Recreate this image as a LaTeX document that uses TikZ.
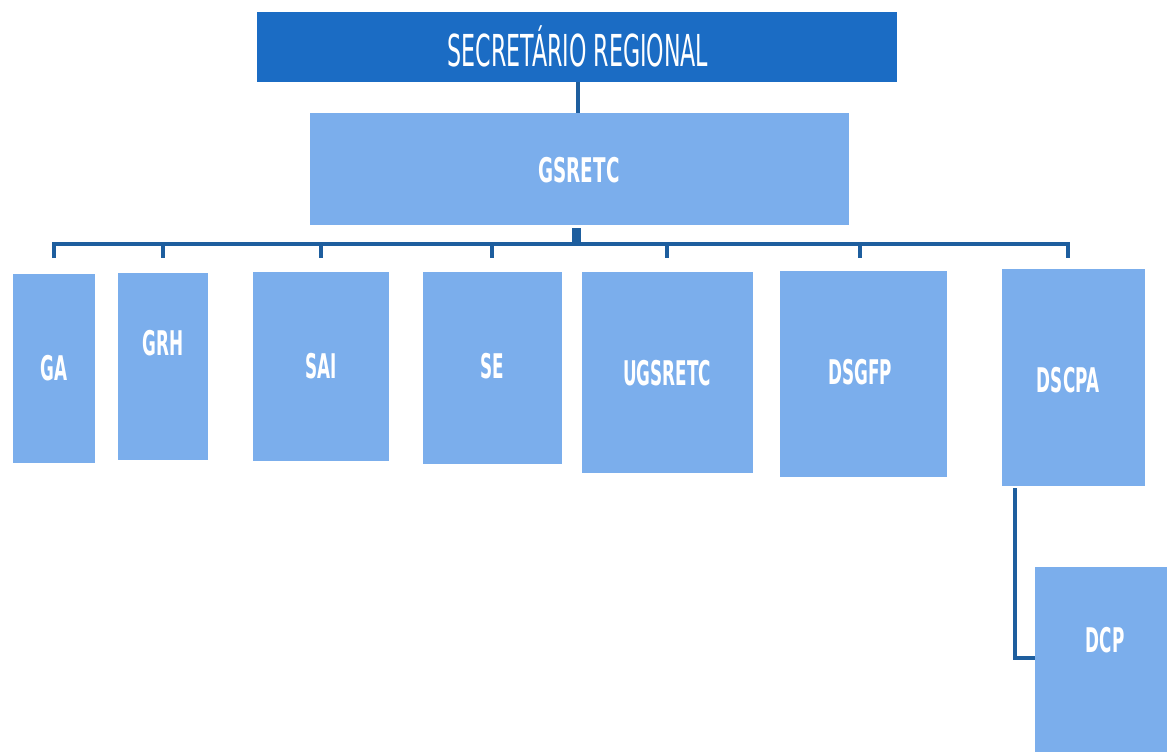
\documentclass[tikz,border=0pt]{standalone}
\usepackage{fontspec}
\usepackage{graphicx}
\newfontfamily\condfont{DejaVu Sans Condensed}
\definecolor{darkbox}{HTML}{1B6CC4}
\definecolor{lightbox}{HTML}{7BAEEC}
\definecolor{lineblue}{HTML}{1E5E9E}
\newcommand{\lbl}[1]{\scalebox{0.55}[1]{\condfont\bfseries\fontsize{34}{36}\selectfont #1}}
\tikzset{
  conn/.style={draw=lineblue, line width=3.2pt},
  lab/.style={text=white, inner sep=0pt}
}
\begin{document}
\begin{tikzpicture}[x=1pt,y=-1pt]
\useasboundingbox (0,0) rectangle (1167,752);
\fill[white] (0,0) rectangle (1167,752);
% top boxes
\fill[darkbox] (257,12) rectangle (897,82);
\node[lab] (sr) at (578,46) {\scalebox{0.56}[1]{\condfont\fontsize{44}{46}\selectfont SECRETÁRIO REGIONAL}};
\fill[lightbox] (310,113) rectangle (849,225);
\node[lab] (gs) at (579,170) {\scalebox{0.6}[1]{\condfont\bfseries\fontsize{34}{36}\selectfont GSRETC}};
\coordinate (srb) at (578,82);
\coordinate (gst) at (578,113);
\draw[conn] (srb) -- (gst);
% bus
\coordinate (busL) at (54,244);
\coordinate (busR) at (1068,244);
\fill[lineblue] (572,228) rectangle (581,245);
\draw[conn] (54,258) |- (1068,244) -- (1068,258);
% children
\fill[lightbox] (13,274) rectangle (95,463);
\fill[lightbox] (118,273) rectangle (208,460);
\fill[lightbox] (253,272) rectangle (389,461);
\fill[lightbox] (423,272) rectangle (562,464);
\fill[lightbox] (582,272) rectangle (753,473);
\fill[lightbox] (780,271) rectangle (947,477);
\fill[lightbox] (1002,269) rectangle (1145,486);
\fill[lightbox] (1035,567) rectangle (1170,755);
\foreach \x in {163,321,492,667,860}{\draw[conn] (\x,244) -- (\x,258);}
\node[lab] (ga) at (54,368) {\lbl{GA}};
\node[lab] (grh) at (163,343) {\lbl{GRH}};
\node[lab] (sai) at (321,366) {\lbl{SAI}};
\node[lab] (se) at (492,366) {\lbl{SE}};
\node[lab] (ug) at (667,373) {\lbl{UGSRETC}};
\node[lab] (ds) at (860,372) {\lbl{DSGFP}};
\node[lab] (dscpa) at (1068,380) {\lbl{DSCPA}};
\node[lab] (dcp) at (1105,640) {\lbl{DCP}};
\coordinate (a) at (1015,488);
\coordinate (b) at (1035,658);
\draw[conn] (a) |- (b);
\end{tikzpicture}
\end{document}
